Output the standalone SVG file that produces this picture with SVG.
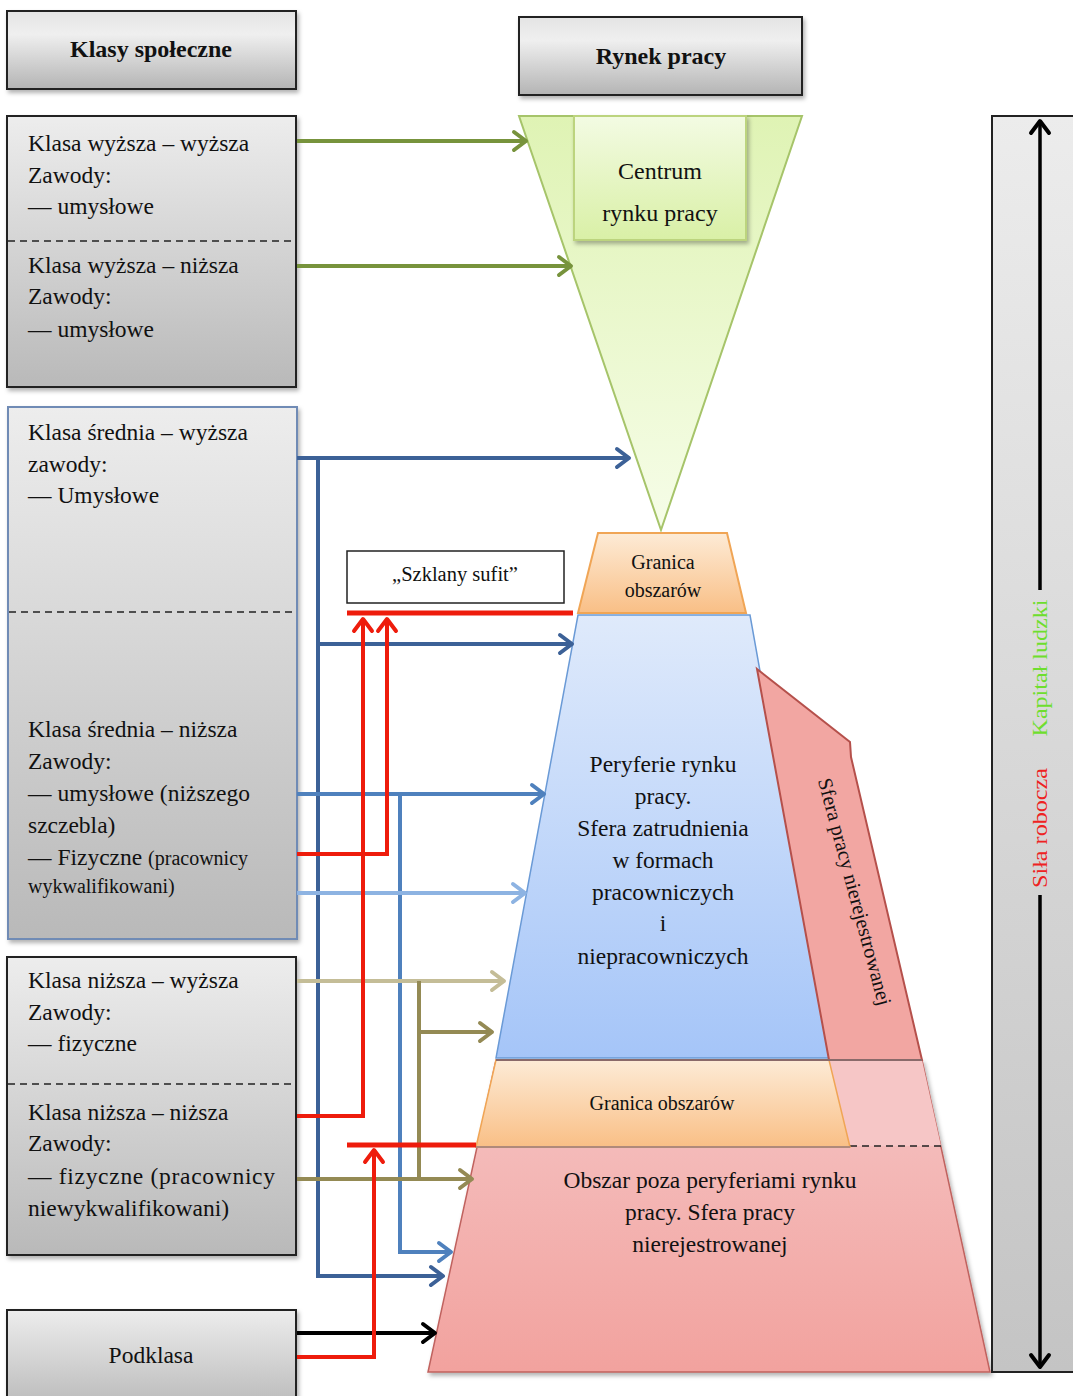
<svg xmlns="http://www.w3.org/2000/svg" width="1073" height="1396" viewBox="0 0 1073 1396">
  <style>
    .t { font-family: "Liberation Serif", "Times New Roman", serif; fill: #111; }
    .lbl { font-size: 23.5px; }
    .sm { font-size: 20px; }
    .hdr { font-size: 24px; font-weight: bold; text-anchor: middle; }
    .mid { text-anchor: middle; }
    .box { stroke: #222; stroke-width: 2; }
    .dash { stroke: #222; stroke-width: 1.5; stroke-dasharray: 7 5; fill: none; }
    .c { fill: none; stroke-width: 4; }
  </style>
  <defs>
    <filter id="sh" x="-10%" y="-10%" width="125%" height="125%">
      <feDropShadow dx="2" dy="3" stdDeviation="2" flood-color="#000" flood-opacity="0.3"/>
    </filter>
    <linearGradient id="gHdr" x1="0" y1="0" x2="0" y2="1">
      <stop offset="0" stop-color="#e4e4e4"/>
      <stop offset="0.3" stop-color="#efefef"/>
      <stop offset="1" stop-color="#b4b4b4"/>
    </linearGradient>
    <linearGradient id="gBox" x1="0" y1="0" x2="0" y2="1">
      <stop offset="0" stop-color="#ededed"/>
      <stop offset="1" stop-color="#b9b9b9"/>
    </linearGradient>
    <linearGradient id="gBar" x1="0" y1="0" x2="0" y2="1">
      <stop offset="0" stop-color="#ececec"/>
      <stop offset="1" stop-color="#c4c4c4"/>
    </linearGradient>
    <linearGradient id="gTri" x1="0" y1="0" x2="0" y2="1">
      <stop offset="0" stop-color="#dff3b4"/>
      <stop offset="1" stop-color="#f6fde8"/>
    </linearGradient>
    <linearGradient id="gCen" x1="0" y1="0" x2="0" y2="1">
      <stop offset="0" stop-color="#f3fbe3"/>
      <stop offset="1" stop-color="#d9f0a6"/>
    </linearGradient>
    <linearGradient id="gOr" x1="0" y1="0" x2="0" y2="1">
      <stop offset="0" stop-color="#fdebd6"/>
      <stop offset="1" stop-color="#f9bf86"/>
    </linearGradient>
    <linearGradient id="gBlue" x1="0" y1="0" x2="0" y2="1">
      <stop offset="0" stop-color="#dfeafb"/>
      <stop offset="1" stop-color="#a5c5f8"/>
    </linearGradient>
    <linearGradient id="gPink" x1="0" y1="0" x2="0" y2="1">
      <stop offset="0" stop-color="#f5c4c4"/>
      <stop offset="1" stop-color="#f2a29e"/>
    </linearGradient>
    <marker id="aGreen" markerUnits="userSpaceOnUse" markerWidth="20" markerHeight="24" refX="15" refY="12" orient="auto">
      <path d="M3,3 L15,12 L3,21" fill="none" stroke="#77933c" stroke-width="4" stroke-linecap="round" stroke-linejoin="round"/>
    </marker>
    <marker id="aDBlue" markerUnits="userSpaceOnUse" markerWidth="20" markerHeight="24" refX="15" refY="12" orient="auto">
      <path d="M3,3 L15,12 L3,21" fill="none" stroke="#3c6197" stroke-width="4" stroke-linecap="round" stroke-linejoin="round"/>
    </marker>
    <marker id="aMBlue" markerUnits="userSpaceOnUse" markerWidth="20" markerHeight="24" refX="15" refY="12" orient="auto">
      <path d="M3,3 L15,12 L3,21" fill="none" stroke="#4f81bd" stroke-width="4" stroke-linecap="round" stroke-linejoin="round"/>
    </marker>
    <marker id="aLBlue" markerUnits="userSpaceOnUse" markerWidth="20" markerHeight="24" refX="15" refY="12" orient="auto">
      <path d="M3,3 L15,12 L3,21" fill="none" stroke="#8db3e2" stroke-width="4" stroke-linecap="round" stroke-linejoin="round"/>
    </marker>
    <marker id="aRed" markerUnits="userSpaceOnUse" markerWidth="20" markerHeight="24" refX="15" refY="12" orient="auto">
      <path d="M3,3 L15,12 L3,21" fill="none" stroke="#ee1c0c" stroke-width="4" stroke-linecap="round" stroke-linejoin="round"/>
    </marker>
    <marker id="aTan" markerUnits="userSpaceOnUse" markerWidth="20" markerHeight="24" refX="15" refY="12" orient="auto">
      <path d="M3,3 L15,12 L3,21" fill="none" stroke="#c4bd97" stroke-width="4" stroke-linecap="round" stroke-linejoin="round"/>
    </marker>
    <marker id="aOlive" markerUnits="userSpaceOnUse" markerWidth="20" markerHeight="24" refX="15" refY="12" orient="auto">
      <path d="M3,3 L15,12 L3,21" fill="none" stroke="#948a54" stroke-width="4" stroke-linecap="round" stroke-linejoin="round"/>
    </marker>
    <marker id="aBlack" markerUnits="userSpaceOnUse" markerWidth="20" markerHeight="24" refX="15" refY="12" orient="auto">
      <path d="M3,3 L15,12 L3,21" fill="none" stroke="#000" stroke-width="4" stroke-linecap="round" stroke-linejoin="round"/>
    </marker>
  </defs>

  <rect width="1073" height="1396" fill="#fff"/>

  <!-- headers -->
  <g id="hdr-klasy">
    <rect class="box" x="7" y="11" width="289" height="78" fill="url(#gHdr)" filter="url(#sh)"/>
    <text class="t hdr" x="151" y="57">Klasy społeczne</text>
  </g>
  <g id="hdr-rynek">
    <rect class="box" x="519" y="17" width="283" height="78" fill="url(#gHdr)" filter="url(#sh)"/>
    <text class="t hdr" x="661" y="64">Rynek pracy</text>
  </g>

  <!-- social class boxes -->
  <g id="klasa-wyzsza">
    <rect class="box" x="7" y="116" width="289" height="271" fill="url(#gBox)" filter="url(#sh)"/>
    <line class="dash" x1="8" y1="241" x2="295" y2="241"/>
    <text class="t lbl" x="28" y="151">Klasa wyższa – wyższa</text>
    <text class="t lbl" x="28" y="183">Zawody:</text>
    <text class="t lbl" x="28" y="214">— umysłowe</text>
    <text class="t lbl" x="28" y="273">Klasa wyższa – niższa</text>
    <text class="t lbl" x="28" y="304">Zawody:</text>
    <text class="t lbl" x="28" y="337">— umysłowe</text>
  </g>

  <g id="klasa-srednia">
    <rect x="8" y="407" width="289" height="532" fill="url(#gBox)" stroke="#6f8bb5" stroke-width="2" filter="url(#sh)"/>
    <line class="dash" x1="9" y1="612" x2="296" y2="612"/>
    <text class="t lbl" x="28" y="440">Klasa średnia – wyższa</text>
    <text class="t lbl" x="28" y="472">zawody:</text>
    <text class="t lbl" x="28" y="503">— Umysłowe</text>
    <text class="t lbl" x="28" y="737">Klasa średnia – niższa</text>
    <text class="t lbl" x="28" y="769">Zawody:</text>
    <text class="t lbl" x="28" y="801">— umysłowe (niższego</text>
    <text class="t lbl" x="28" y="833">szczebla)</text>
    <text class="t lbl" x="28" y="865">— Fizyczne <tspan class="sm">(pracownicy</tspan></text>
    <text class="t sm" x="28" y="893">wykwalifikowani)</text>
  </g>

  <g id="klasa-nizsza">
    <rect class="box" x="7" y="957" width="289" height="298" fill="url(#gBox)" filter="url(#sh)"/>
    <line class="dash" x1="8" y1="1084" x2="295" y2="1084"/>
    <text class="t lbl" x="28" y="988">Klasa niższa – wyższa</text>
    <text class="t lbl" x="28" y="1020">Zawody:</text>
    <text class="t lbl" x="28" y="1051">— fizyczne</text>
    <text class="t lbl" x="28" y="1120">Klasa niższa – niższa</text>
    <text class="t lbl" x="28" y="1151">Zawody:</text>
    <text class="t lbl" x="28" y="1184" textLength="247" lengthAdjust="spacing">— fizyczne (pracownicy</text>
    <text class="t lbl" x="28" y="1216">niewykwalifikowani)</text>
  </g>

  <g id="podklasa">
    <rect class="box" x="7" y="1310" width="289" height="100" fill="url(#gBox)" filter="url(#sh)"/>
    <text class="t lbl mid" x="151" y="1363">Podklasa</text>
  </g>

  <!-- labour market structure -->
  <g id="centrum">
    <polygon points="519,116 802,116 661,530" fill="url(#gTri)" stroke="#a6c46a" stroke-width="2"/>
    <rect x="574" y="116" width="172" height="124" fill="url(#gCen)" stroke="#bcd47e" stroke-width="2" filter="url(#sh)"/>
    <text class="t mid" font-size="24" x="660" y="179">Centrum</text>
    <text class="t mid" font-size="24" x="660" y="221">rynku pracy</text>
  </g>

  <g id="granica-gorna">
    <polygon points="598,533 727,533 746,613 578,613" fill="url(#gOr)" stroke="#f0a555" stroke-width="2"/>
    <text class="t mid sm" x="663" y="569">Granica</text>
    <text class="t mid sm" x="663" y="597">obszarów</text>
  </g>

  <g id="obszar-poza">
    <polygon points="496,1060 922,1060 990,1372 428,1372" fill="url(#gPink)" stroke="#c0625e" stroke-width="1.5" filter="url(#sh)"/>
    <polygon points="829,1060 922,1060 941,1146 850,1146" fill="#f6c6c6"/>
    <line class="dash" x1="850" y1="1146" x2="941" y2="1146"/>
    <text class="t lbl mid" x="710" y="1188">Obszar poza peryferiami rynku</text>
    <text class="t lbl mid" x="710" y="1220">pracy. Sfera pracy</text>
    <text class="t lbl mid" x="710" y="1252">nierejestrowanej</text>
  </g>

  <g id="peryferie">
    <polygon points="578,615 750,615 829,1058 496,1058" fill="url(#gBlue)" stroke="#6a9ad6" stroke-width="1.5"/>
    <text class="t lbl mid" x="663" y="772">Peryferie rynku</text>
    <text class="t lbl mid" x="663" y="804">pracy.</text>
    <text class="t lbl mid" x="663" y="836">Sfera zatrudnienia</text>
    <text class="t lbl mid" x="663" y="868">w formach</text>
    <text class="t lbl mid" x="663" y="900">pracowniczych</text>
    <text class="t lbl mid" x="663" y="931">i</text>
    <text class="t lbl mid" x="663" y="964">niepracowniczych</text>
  </g>

  <g id="sfera-nierejestrowana">
    <polygon points="757,669 850,742 851,757 922,1060 829,1060" fill="#f2a6a2" stroke="#b5504b" stroke-width="2"/>
    <text class="t mid" font-size="20.5" transform="translate(854,892) rotate(75)" y="6">Sfera pracy nierejestrowanej</text>
  </g>

  <g id="granica-dolna">
    <polygon points="496,1060 829,1060 850,1147 476,1147" fill="url(#gOr)" stroke="#f0a555" stroke-width="1.5"/>
    <line x1="476" y1="1147" x2="850" y2="1147" stroke="#b08a7a" stroke-width="2"/>
    <line x1="496" y1="1060" x2="922" y2="1060" stroke="#8a6a6a" stroke-width="2"/>
    <text class="t mid sm" x="662" y="1110">Granica obszarów</text>
  </g>

  <g id="szklany-sufit">
    <rect x="347" y="551" width="217" height="52" fill="#fff" stroke="#222" stroke-width="1.5"/>
    <text class="t mid" font-size="20.5" x="455" y="581">„Szklany sufit”</text>
  </g>

  <!-- scale bar: human capital / labour force -->
  <g id="skala">
    <rect x="992" y="116" width="95" height="1256" fill="url(#gBar)" stroke="#222" stroke-width="2"/>
    <line x1="1040" y1="590" x2="1040" y2="121" stroke="#000" stroke-width="3.5" marker-end="url(#aBlack)"/>
    <line x1="1040" y1="895" x2="1040" y2="1367" stroke="#000" stroke-width="3.5" marker-end="url(#aBlack)"/>
    <text class="t mid" font-size="21" style="fill:#6ede2e" transform="translate(1047,668) rotate(-90)" textLength="137" lengthAdjust="spacingAndGlyphs">Kapitał ludzki</text>
    <text class="t mid" font-size="21" style="fill:#ee2222" transform="translate(1047,828) rotate(-90)" textLength="120" lengthAdjust="spacingAndGlyphs">Siła robocza</text>
  </g>

  <!-- connectors -->
  <g id="connectors">
    <!-- upper class -->
    <line class="c" stroke="#77933c" x1="297" y1="141" x2="526" y2="141" marker-end="url(#aGreen)"/>
    <line class="c" stroke="#77933c" x1="297" y1="266" x2="571" y2="266" marker-end="url(#aGreen)"/>
    <!-- middle class, upper -->
    <line class="c" stroke="#3c6197" x1="297" y1="458" x2="629" y2="458" marker-end="url(#aDBlue)"/>
    <polyline class="c" stroke="#3c6197" points="318,458 318,1276 443,1276" marker-end="url(#aDBlue)"/>
    <line class="c" stroke="#3c6197" x1="318" y1="644" x2="572" y2="644" marker-end="url(#aDBlue)"/>
    <!-- middle class, lower -->
    <line class="c" stroke="#4f81bd" x1="297" y1="794" x2="544" y2="794" marker-end="url(#aMBlue)"/>
    <polyline class="c" stroke="#4f81bd" points="400,794 400,1252 451,1252" marker-end="url(#aMBlue)"/>
    <line class="c" stroke="#8db3e2" x1="297" y1="893" x2="525" y2="893" marker-end="url(#aLBlue)"/>
    <!-- lower class -->
    <line class="c" stroke="#c4bd97" x1="297" y1="981" x2="504" y2="981" marker-end="url(#aTan)"/>
    <line class="c" stroke="#948a54" x1="419" y1="981" x2="419" y2="1179"/>
    <line class="c" stroke="#948a54" x1="419" y1="1032" x2="492" y2="1032" marker-end="url(#aOlive)"/>
    <line class="c" stroke="#948a54" x1="297" y1="1179" x2="472" y2="1179" marker-end="url(#aOlive)"/>
    <!-- underclass -->
    <line class="c" stroke="#000" x1="297" y1="1333" x2="435" y2="1333" marker-end="url(#aBlack)"/>
    <!-- glass ceiling barriers -->
    <line stroke="#ee1c0c" stroke-width="5" x1="347" y1="613" x2="573" y2="613"/>
    <line stroke="#ee1c0c" stroke-width="5" x1="347" y1="1145" x2="476" y2="1145"/>
    <polyline class="c" stroke="#ee1c0c" points="297,854 387,854 387,619" marker-end="url(#aRed)"/>
    <polyline class="c" stroke="#ee1c0c" points="297,1116 363,1116 363,619" marker-end="url(#aRed)"/>
    <polyline class="c" stroke="#ee1c0c" points="297,1357 374,1357 374,1150" marker-end="url(#aRed)"/>
  </g>
</svg>
